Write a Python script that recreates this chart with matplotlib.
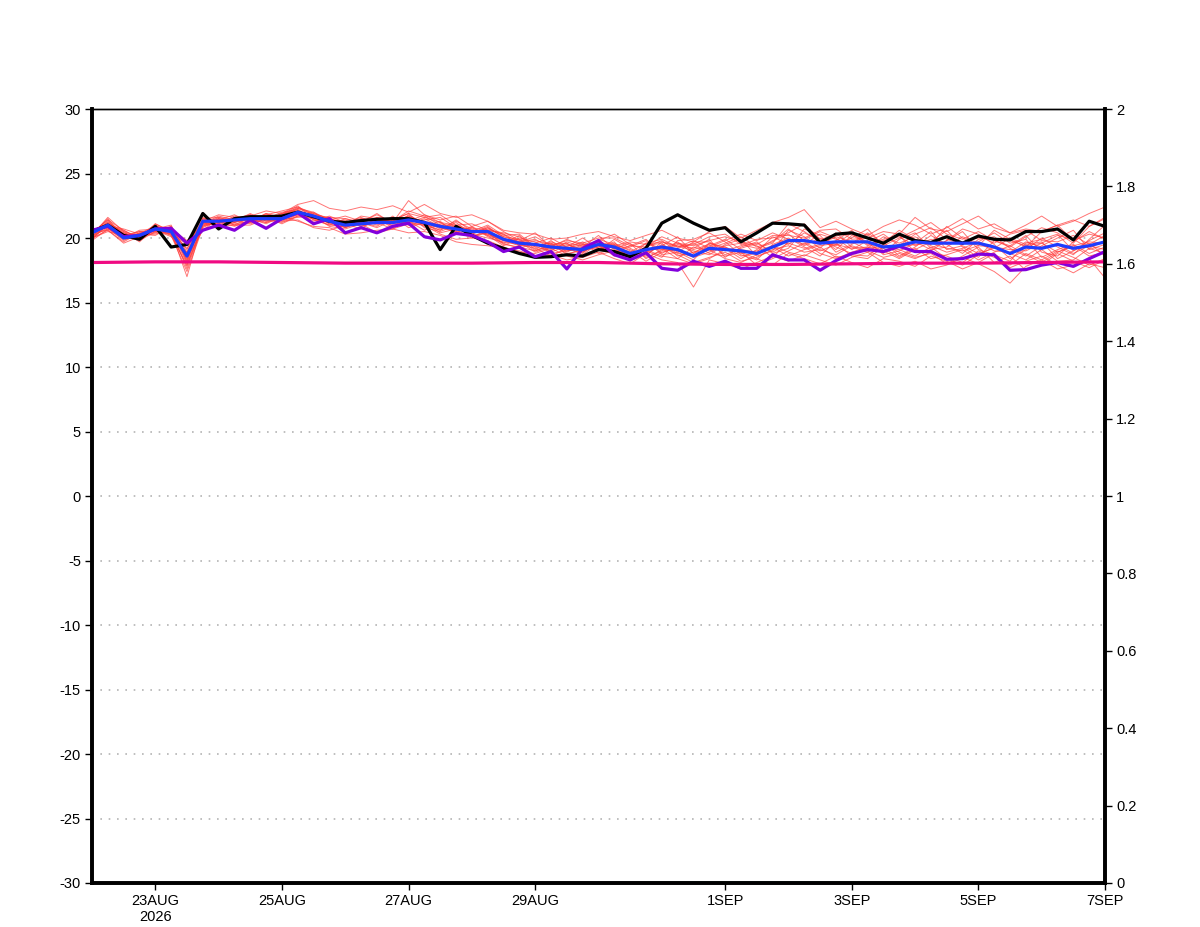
import matplotlib
matplotlib.use('Agg')
import matplotlib.pyplot as plt
from datetime import datetime, timedelta

# 6-hourly series, 22AUG 00Z .. 7SEP 00Z (65 steps)
start = datetime(2026, 8, 22)
times = [start + timedelta(hours=6 * i) for i in range(65)]
days = [start + timedelta(days=d) for d in range(17)]

control = [
    20.5, 21.0, 20.2, 19.9, 20.9, 19.3, 19.5, 21.9, 20.7, 21.5, 21.65, 21.65, 21.7,
    22.0, 21.65, 21.3, 21.2, 21.35, 21.45, 21.5, 21.5, 21.2, 19.1, 20.9, 20.2, 19.6,
    19.2, 18.8, 18.5, 18.55, 18.7, 18.6, 19.1, 18.95, 18.55, 19.2, 21.15, 21.8, 21.15,
    20.6, 20.8, 19.7, 20.4, 21.15, 21.1, 21.0, 19.65, 20.3, 20.4, 20.0, 19.6, 20.3,
    19.8, 19.65, 20.1, 19.6, 20.15, 19.9, 19.85, 20.5, 20.5, 20.7, 19.85, 21.3, 20.9,
]
ens_mean = [
    20.4, 21.0, 20.0, 20.2, 20.7, 20.5, 18.6, 21.3, 21.3, 21.4, 21.5, 21.5, 21.5,
    22.0, 21.7, 21.3, 21.0, 21.1, 21.2, 21.2, 21.4, 21.2, 20.9, 20.7, 20.5, 20.5,
    19.9, 19.6, 19.5, 19.3, 19.2, 19.1, 19.5, 19.3, 18.8, 19.1, 19.3, 19.1, 18.6,
    19.2, 19.1, 19.0, 18.8, 19.3, 19.8, 19.8, 19.6, 19.7, 19.7, 19.7, 19.3, 19.4,
    19.7, 19.6, 19.6, 19.6, 19.6, 19.3, 18.8, 19.3, 19.2, 19.5, 19.2, 19.4, 19.7,
]
analysis = [
    20.6, 20.9, 20.1, 20.2, 20.7, 20.75, 19.6, 20.6, 21.0, 20.6, 21.4, 20.75, 21.5,
    21.95, 21.1, 21.5, 20.4, 20.8, 20.4, 20.9, 21.15, 20.1, 19.85, 20.35, 20.2, 19.7,
    18.95, 19.3, 18.55, 18.95, 17.6, 19.2, 19.8, 18.7, 18.3, 18.86, 17.65, 17.5, 18.2,
    17.8, 18.2, 17.65, 17.65, 18.7, 18.3, 18.3, 17.5, 18.25, 18.8, 19.1, 18.95, 19.35,
    18.95, 18.95, 18.35, 18.4, 18.75, 18.7, 17.5, 17.55, 17.9, 18.1, 17.8, 18.4, 18.95,
]
# daily climatology
climate = [18.1, 18.15, 18.15, 18.1, 18.05, 18.05, 18.05, 18.1, 18.1,
           18.0, 17.95, 17.95, 18.0, 18.05, 18.05, 18.1, 18.15]
# right axis series, practically zero
precip = [0, 0, 0, 0, 0, 0, 0, 0, 0, 0.001, 0.002, 0.002, 0.001, 0, 0, 0, 0]

members = [
    [20.1, 21.3, 20.3, 20.0, 20.9, 20.6, 18.0, 21.0, 21.6, 21.2, 21.8, 21.4, 21.9,
     22.3, 21.8, 21.1, 21.3, 21.0, 21.4, 21.2, 21.7, 21.0, 20.6, 21.2, 20.3, 20.8,
     20.1, 19.7, 19.9, 19.2, 19.6, 18.8, 19.9, 19.5, 18.4, 19.3, 19.8, 18.9, 18.3,
     19.6, 19.2, 18.4, 19.1, 19.8, 20.3, 19.4, 20.0, 19.1, 20.2, 19.6, 18.8, 19.9,
     20.4, 19.2, 19.8, 20.5, 19.1, 18.7, 18.2, 19.6, 19.9, 20.3, 19.0, 19.8, 20.4],
    [20.6, 20.8, 19.8, 20.4, 20.5, 20.9, 18.9, 21.5, 21.1, 21.7, 21.3, 21.9, 21.6,
     22.1, 21.5, 21.6, 20.8, 21.4, 21.0, 21.6, 21.1, 21.5, 20.9, 20.4, 20.9, 20.1,
     19.6, 20.2, 19.1, 19.8, 18.9, 19.5, 19.0, 19.9, 19.2, 18.6, 19.7, 19.4, 19.0,
     18.7, 19.5, 19.9, 18.6, 19.0, 20.6, 20.1, 19.2, 20.4, 19.3, 18.9, 19.7, 18.6,
     19.3, 20.2, 19.5, 18.8, 19.9, 20.1, 19.2, 18.6, 19.4, 20.0, 20.6, 19.1, 19.5],
    [19.9, 21.1, 20.5, 19.7, 20.8, 20.2, 17.4, 20.8, 21.4, 21.0, 21.2, 21.7, 21.3,
     21.8, 22.0, 21.4, 21.1, 20.7, 21.6, 20.9, 21.3, 21.8, 21.2, 20.5, 20.0, 20.7,
     20.3, 19.4, 19.6, 20.0, 19.3, 18.7, 19.6, 18.9, 19.4, 19.9, 18.8, 19.5, 19.2,
     19.9, 18.5, 19.3, 19.7, 18.8, 19.2, 20.7, 20.2, 18.9, 19.5, 20.3, 19.0, 18.4,
     19.1, 19.7, 20.6, 19.3, 18.5, 19.8, 19.4, 20.2, 18.9, 18.6, 19.7, 20.5, 19.9],
    [20.3, 21.5, 20.1, 20.3, 21.0, 20.4, 19.5, 21.2, 21.0, 21.5, 21.6, 21.2, 21.8,
     22.5, 21.4, 21.0, 21.5, 21.2, 20.8, 21.4, 21.9, 20.8, 20.5, 21.0, 20.6, 20.3,
     19.8, 19.9, 19.3, 19.0, 19.7, 19.3, 20.2, 19.1, 18.7, 19.0, 18.5, 19.8, 19.9,
     20.4, 19.7, 18.7, 18.3, 19.5, 20.0, 19.3, 18.6, 19.8, 20.6, 19.5, 19.9, 20.2,
     18.9, 19.0, 19.8, 20.7, 20.3, 19.5, 18.4, 19.1, 20.0, 19.3, 18.7, 19.9, 21.0],
    [20.0, 20.6, 19.6, 20.1, 20.4, 20.8, 18.3, 21.4, 21.3, 20.9, 21.4, 21.6, 21.1,
     21.7, 21.9, 21.5, 20.9, 21.5, 21.3, 21.0, 21.2, 21.4, 21.6, 20.8, 20.4, 20.9,
     20.0, 19.5, 19.8, 19.5, 18.8, 19.0, 19.3, 19.7, 18.2, 19.4, 19.6, 18.6, 18.9,
     19.4, 19.9, 19.1, 18.9, 20.1, 19.5, 20.4, 19.8, 19.3, 18.8, 19.2, 20.1, 19.6,
     20.1, 19.4, 18.9, 19.2, 19.7, 20.4, 19.6, 19.9, 18.5, 19.1, 19.5, 18.8, 19.3],
    [20.5, 21.2, 20.4, 19.9, 20.6, 20.3, 17.8, 21.1, 21.7, 21.4, 21.1, 21.5, 22.0,
     22.2, 21.6, 21.2, 21.4, 20.9, 21.5, 21.5, 21.0, 21.3, 20.7, 21.3, 20.7, 20.2,
     19.4, 20.0, 19.7, 18.9, 19.4, 19.6, 18.8, 19.2, 19.6, 18.4, 19.1, 19.0, 18.5,
     18.9, 19.4, 19.6, 19.4, 18.5, 19.7, 19.9, 20.5, 20.0, 19.1, 19.8, 18.7, 19.0,
     19.6, 20.5, 19.1, 19.4, 18.8, 19.2, 20.0, 19.5, 19.7, 18.4, 19.0, 19.6, 18.6],
    [20.2, 20.9, 20.0, 20.6, 20.7, 21.0, 18.6, 20.9, 21.5, 21.3, 21.9, 21.3, 21.5,
     21.9, 21.3, 21.7, 21.2, 21.6, 21.1, 21.3, 22.1, 21.7, 21.0, 20.6, 20.8, 20.6,
     20.4, 20.1, 19.4, 19.6, 19.1, 18.9, 19.7, 19.4, 18.9, 19.6, 19.9, 19.3, 19.5,
     20.1, 20.3, 19.5, 19.2, 19.6, 21.1, 20.5, 19.7, 19.4, 20.0, 20.7, 19.4, 20.0,
     20.6, 21.2, 20.3, 19.9, 20.5, 19.8, 19.3, 20.1, 20.8, 20.4, 19.6, 20.9, 21.6],
    [19.8, 20.7, 19.9, 20.2, 20.3, 20.7, 19.1, 21.6, 21.2, 21.1, 21.3, 21.8, 21.4,
     21.6, 21.7, 20.9, 20.7, 21.1, 21.2, 20.7, 21.5, 20.9, 21.3, 20.3, 20.2, 20.4,
     19.5, 19.3, 19.0, 19.4, 19.0, 19.2, 19.4, 18.6, 18.6, 18.9, 19.3, 18.7, 18.1,
     18.5, 18.9, 18.2, 18.5, 19.1, 19.4, 18.9, 19.1, 18.7, 19.4, 19.0, 18.5, 18.8,
     18.4, 18.9, 18.6, 18.1, 19.0, 18.5, 17.9, 18.8, 18.3, 19.0, 18.5, 17.9, 18.4],
    [20.4, 21.4, 20.6, 20.0, 21.1, 20.5, 17.0, 21.3, 21.8, 21.6, 21.7, 22.1, 21.9,
     22.6, 22.9, 22.3, 22.1, 22.4, 22.2, 22.5, 22.0, 22.6, 21.9, 21.6, 21.8, 21.3,
     20.6, 20.4, 20.3, 19.9, 20.0, 20.3, 20.5, 20.1, 19.8, 20.2, 20.6, 20.0, 19.7,
     20.5, 20.9, 20.0, 20.6, 21.2, 21.6, 22.2, 20.8, 21.3, 20.7, 20.2, 20.9, 21.4,
     21.0, 20.3, 20.8, 21.5, 20.7, 21.1, 20.4, 21.0, 21.7, 20.9, 21.3, 21.9, 22.4],
    [20.0, 20.5, 20.2, 20.5, 20.6, 20.1, 18.8, 20.7, 21.0, 21.2, 21.5, 21.1, 21.7,
     21.3, 20.9, 20.8, 20.3, 20.4, 20.6, 20.7, 20.4, 20.5, 20.2, 19.7, 19.5, 19.4,
     19.2, 19.0, 18.6, 18.7, 18.3, 18.5, 18.9, 18.4, 18.0, 18.8, 18.3, 18.1, 16.2,
     18.3, 18.0, 17.6, 18.1, 18.6, 18.2, 18.7, 18.3, 17.9, 18.5, 18.9, 18.1, 17.8,
     18.2, 17.6, 17.9, 18.5, 18.0, 17.4, 16.5, 17.8, 18.3, 17.6, 17.9, 18.4, 16.9],
    [20.3, 21.0, 20.7, 20.3, 20.2, 20.9, 18.1, 21.4, 21.4, 21.8, 21.2, 21.6, 21.7,
     22.4, 21.9, 21.4, 21.7, 21.3, 21.8, 21.2, 22.9, 21.8, 21.4, 21.7, 20.9, 21.3,
     20.5, 19.8, 20.4, 19.3, 19.9, 19.4, 19.8, 20.3, 19.5, 19.1, 19.4, 20.1, 18.8,
     19.3, 19.8, 20.3, 19.8, 20.4, 19.9, 19.5, 20.3, 19.9, 19.6, 20.4, 19.6, 20.6,
     19.9, 19.5, 20.9, 20.0, 19.4, 20.6, 19.9, 19.3, 20.5, 21.0, 19.8, 20.3, 20.0],
    [20.6, 21.1, 20.2, 19.8, 20.5, 20.7, 19.8, 21.1, 21.3, 21.3, 21.4, 21.4, 21.2,
     21.7, 21.5, 21.0, 20.9, 21.2, 20.9, 21.7, 20.8, 21.2, 20.4, 20.7, 20.3, 20.0,
     19.7, 19.5, 19.2, 18.6, 19.2, 19.7, 19.1, 19.6, 19.0, 18.2, 18.9, 19.2, 19.6,
     18.8, 18.6, 18.9, 17.9, 18.4, 19.0, 19.6, 18.8, 18.4, 18.9, 19.3, 19.2, 18.5,
     19.2, 18.4, 18.7, 19.1, 18.3, 18.9, 19.4, 18.7, 18.1, 18.9, 19.4, 18.6, 18.9],
    [20.1, 20.8, 20.4, 20.0, 21.0, 20.3, 18.4, 20.6, 21.5, 21.0, 21.6, 21.7, 21.6,
     22.0, 21.6, 21.5, 21.2, 21.0, 21.3, 21.4, 21.3, 20.6, 21.1, 20.9, 20.6, 20.5,
     19.9, 19.6, 19.5, 19.1, 19.5, 19.1, 19.5, 18.8, 18.5, 19.6, 19.2, 18.4, 19.3,
     19.0, 19.3, 18.6, 18.8, 19.3, 18.6, 19.1, 19.4, 19.6, 18.6, 18.4, 19.3, 19.1,
     18.6, 19.3, 18.4, 17.9, 18.7, 19.3, 18.8, 18.3, 19.1, 18.2, 18.3, 19.2, 18.8],
    [19.9, 21.2, 20.3, 20.2, 20.7, 20.6, 17.6, 21.0, 21.1, 21.5, 21.8, 21.3, 21.8,
     22.2, 21.4, 21.3, 21.0, 21.7, 21.5, 20.8, 21.8, 21.1, 20.6, 21.4, 20.5, 21.0,
     20.2, 20.3, 19.3, 19.7, 19.3, 20.0, 19.2, 19.3, 19.3, 19.8, 18.7, 18.9, 19.7,
     19.7, 19.0, 19.4, 19.9, 20.0, 20.4, 21.1, 19.9, 20.2, 20.3, 19.7, 20.3, 19.4,
     20.3, 20.8, 19.9, 19.5, 20.2, 19.6, 20.3, 20.6, 19.8, 19.7, 20.2, 19.5, 20.2],
    [20.4, 20.6, 19.7, 20.4, 20.4, 20.4, 19.2, 21.2, 20.9, 21.0, 21.0, 21.5, 21.3,
     21.4, 20.8, 20.6, 21.0, 21.1, 20.4, 20.7, 21.1, 21.0, 20.3, 19.9, 20.0, 19.8,
     19.3, 18.9, 18.8, 19.2, 18.6, 18.3, 18.7, 19.0, 18.8, 19.1, 18.6, 18.4, 18.0,
     18.4, 19.1, 18.9, 18.4, 17.9, 18.8, 18.4, 18.0, 18.6, 18.1, 17.7, 18.4, 18.2,
     17.8, 18.6, 18.2, 17.6, 18.1, 18.8, 17.7, 18.2, 18.6, 17.9, 17.3, 18.0, 17.7],
    [20.2, 21.6, 20.5, 20.1, 20.8, 20.8, 18.2, 21.5, 21.6, 21.4, 21.5, 21.8, 22.1,
     22.4, 21.8, 21.6, 21.5, 21.2, 21.9, 21.1, 21.2, 21.6, 21.8, 21.0, 21.1, 20.6,
     20.3, 19.7, 20.1, 19.4, 19.8, 19.6, 20.0, 20.0, 19.4, 19.3, 20.1, 19.6, 19.4,
     19.8, 20.1, 19.7, 19.5, 20.2, 20.2, 20.0, 20.6, 20.7, 19.9, 20.0, 20.5, 20.3,
     21.6, 20.7, 20.5, 21.1, 21.7, 20.8, 20.4, 20.7, 20.5, 21.0, 21.4, 20.9, 21.5],
    [20.5, 20.9, 20.1, 20.3, 20.6, 20.2, 17.9, 20.9, 21.2, 21.6, 21.3, 21.9, 21.4,
     21.9, 21.7, 21.1, 20.8, 21.3, 21.1, 21.6, 21.0, 21.3, 21.0, 20.6, 20.1, 20.4,
     19.6, 19.2, 19.6, 18.8, 19.0, 19.3, 19.3, 19.5, 19.1, 18.5, 19.0, 19.6, 19.1,
     19.5, 18.7, 19.2, 19.6, 18.9, 19.6, 19.2, 19.5, 20.1, 19.7, 19.1, 18.9, 19.5,
     19.7, 19.1, 19.3, 20.1, 19.6, 19.0, 18.9, 19.7, 19.3, 19.5, 18.8, 19.4, 19.1],
    [20.0, 21.0, 20.6, 19.9, 21.1, 20.5, 18.7, 21.3, 21.5, 21.2, 21.7, 21.5, 21.6,
     22.3, 22.0, 21.2, 21.1, 21.5, 21.4, 21.3, 21.7, 21.2, 20.8, 20.5, 20.8, 20.2,
     19.8, 19.4, 19.4, 19.6, 18.7, 19.2, 19.4, 18.7, 18.9, 18.7, 19.5, 18.8, 18.6,
     19.1, 18.4, 18.1, 18.7, 19.4, 18.9, 18.6, 19.3, 18.5, 18.7, 18.6, 19.5, 18.9,
     18.5, 18.8, 18.0, 18.6, 19.3, 18.1, 18.6, 17.5, 17.9, 18.8, 18.2, 17.7, 18.3],
    [20.3, 21.4, 20.0, 20.5, 20.5, 20.7, 18.5, 21.0, 21.2, 21.5, 21.4, 21.2, 21.5,
     21.8, 21.5, 21.4, 20.8, 21.2, 21.6, 21.4, 21.9, 21.6, 21.2, 21.0, 20.3, 20.8,
     20.1, 19.9, 19.0, 19.5, 19.6, 18.9, 19.6, 19.4, 19.7, 19.5, 19.7, 19.3, 19.8,
     19.2, 19.6, 20.1, 19.3, 19.7, 20.7, 19.8, 19.6, 19.5, 20.4, 19.4, 19.8, 20.1,
     19.4, 19.9, 19.6, 19.7, 20.0, 19.9, 19.8, 19.4, 19.6, 20.2, 19.9, 19.2, 19.8],
    [20.2, 20.7, 20.2, 20.1, 20.6, 20.3, 18.9, 21.2, 21.4, 21.3, 21.6, 21.4, 21.9,
     22.1, 21.6, 21.3, 21.3, 20.9, 21.2, 21.1, 21.6, 21.0, 21.0, 20.8, 20.5, 20.3,
     19.9, 19.7, 18.9, 19.3, 19.2, 19.5, 19.5, 19.2, 18.7, 19.2, 19.1, 19.7, 18.8,
     19.6, 19.3, 18.8, 19.0, 19.4, 19.9, 19.7, 19.0, 19.5, 19.2, 19.3, 18.9, 19.3,
     19.5, 19.6, 19.2, 19.0, 19.4, 19.3, 19.1, 19.0, 19.6, 18.9, 19.4, 19.7, 19.6],
]

xtick_days = [datetime(2026, 8, 23), datetime(2026, 8, 25), datetime(2026, 8, 27),
              datetime(2026, 8, 29), datetime(2026, 9, 1), datetime(2026, 9, 3),
              datetime(2026, 9, 5), datetime(2026, 9, 7)]
xtick_labels = ['23AUG\n2026', '25AUG', '27AUG', '29AUG', '1SEP', '3SEP', '5SEP', '7SEP']
left_ticks = list(range(-30, 31, 5))
right_ticks = [0, 0.2, 0.4, 0.6, 0.8, 1, 1.2, 1.4, 1.6, 1.8, 2]
right_labels = ['0', '0.2', '0.4', '0.6', '0.8', '1', '1.2', '1.4', '1.6', '1.8', '2']

plt.rcParams['font.family'] = ['Liberation Sans', 'DejaVu Sans']

fig = plt.figure(figsize=(12, 9.27), dpi=100)
ax = fig.add_axes([92 / 1200, 1 - 883 / 927, (1105 - 92) / 1200, (883 - 109) / 927])

for v in range(-25, 30, 5):
    ax.axhline(v, color='#b4b4b4', lw=1.2, ls=(0, (1, 4)), zorder=1)

for m in members:
    ax.plot(times, m, color='#ff3a3a', lw=0.7, alpha=0.7, zorder=2)

ax.plot(times, control, color='black', lw=2.3, zorder=3)
ax.plot(times, analysis, color='#8200dc', lw=2.3, zorder=4)
ax.plot(times, ens_mean, color='#1e3cff', lw=2.3, zorder=5)
ax.plot(days, climate, color='#f00a82', lw=2.3, zorder=6)

ax.set_xlim(start, start + timedelta(days=16))
ax.set_ylim(-30, 30)
ax.set_yticks(left_ticks)
ax.set_yticklabels([str(v) for v in left_ticks])
ax.set_xticks(xtick_days)
ax.set_xticklabels(xtick_labels)
ax.tick_params(axis='both', direction='out', length=5, width=1, labelsize=10.5, pad=3)

ax2 = ax.twinx()
ax2.plot(days, precip, color='#1c3a2a', lw=1.5, zorder=2)
ax2.set_ylim(0, 2)
ax2.set_yticks(right_ticks)
ax2.set_yticklabels(right_labels)
ax2.tick_params(axis='y', direction='out', length=5, width=1, labelsize=10.5, pad=3)

for a in (ax, ax2):
    a.spines['left'].set_linewidth(2.6)
    a.spines['right'].set_linewidth(2.6)
    a.spines['bottom'].set_linewidth(2.6)
    a.spines['top'].set_linewidth(1.0)

fig.savefig('out.png', dpi=100)
